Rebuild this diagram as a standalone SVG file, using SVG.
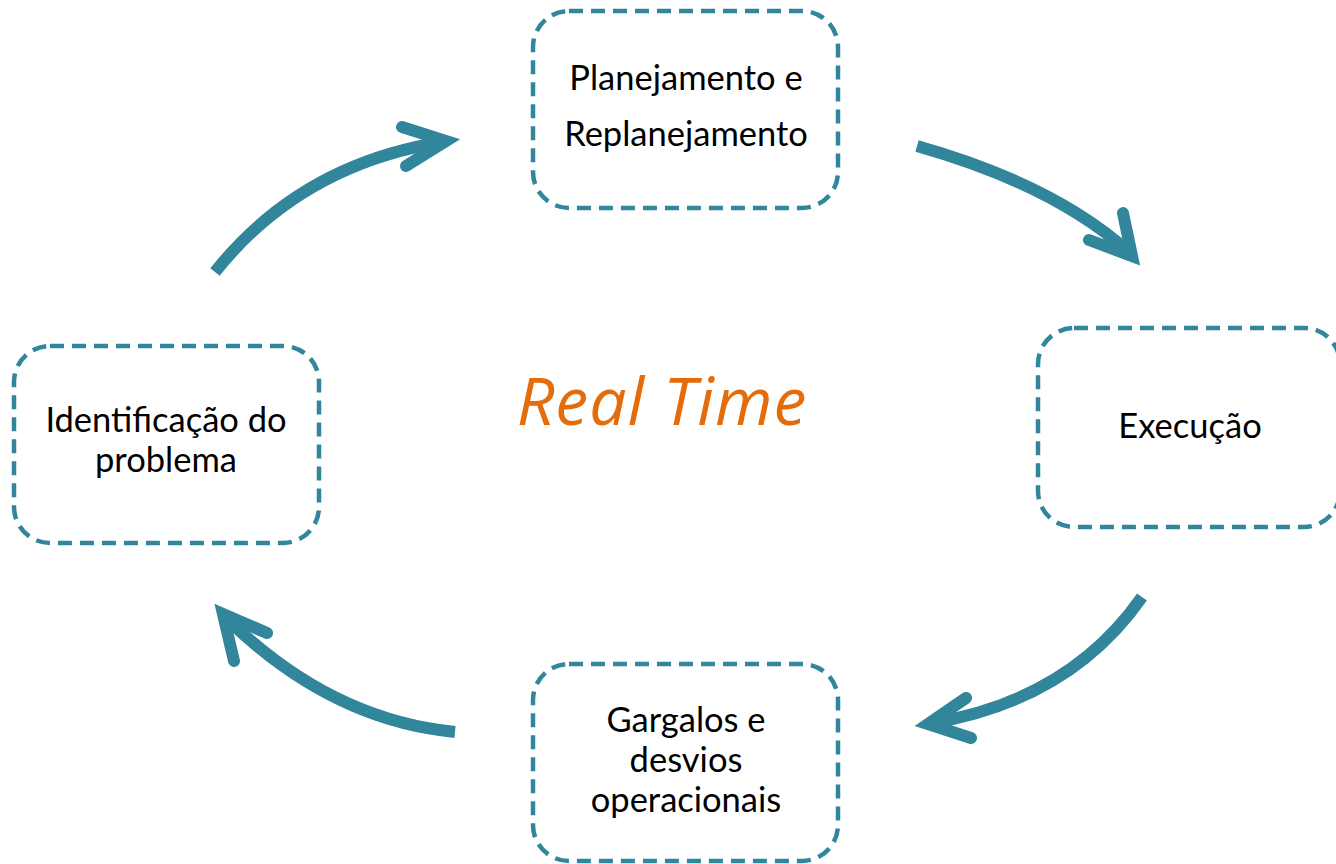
<svg xmlns="http://www.w3.org/2000/svg" width="1336" height="864" viewBox="0 0 1336 864">
<style>
.box{fill:none;stroke:#31869b;stroke-width:4.5;stroke-dasharray:14 8}
.lbl{font-family:Lato,"Open Sans",sans-serif;font-size:34.5px;fill:#000;text-anchor:middle}
.arr{fill:none;stroke:#31869b;stroke-width:12}
.head{fill:none;stroke:#31869b;stroke-width:12;stroke-linecap:round;stroke-linejoin:miter;stroke-miterlimit:10}
</style>
<rect width="1336" height="864" fill="#ffffff"/>
<g id="planejamento">
<rect class="box" x="533" y="11" width="305" height="197" rx="36"/>
<text class="lbl" x="686" y="90">Planejamento e</text>
<text class="lbl" x="686" y="146">Replanejamento</text>
</g>
<g id="execucao">
<rect class="box" x="1038" y="328" width="302" height="199" rx="36"/>
<text class="lbl" x="1190" y="438">Execução</text>
</g>
<g id="gargalos">
<rect class="box" x="533" y="664" width="305" height="197" rx="36"/>
<text class="lbl" x="686" y="732">Gargalos e</text>
<text class="lbl" x="686" y="772">desvios</text>
<text class="lbl" x="686" y="812">operacionais</text>
</g>
<g id="identificacao">
<rect class="box" x="14" y="346" width="305" height="197" rx="36"/>
<text class="lbl" x="166" y="432">Identificação do</text>
<text class="lbl" x="166" y="472">problema</text>
</g>
<g id="center">
<text x="662" y="425" font-family="'Open Sans',Lato,sans-serif" font-style="italic" font-size="66" letter-spacing="1" fill="#e46c0a" text-anchor="middle">Real Time</text>
</g>
<g id="connectors">
<path class="arr" d="M215 272 Q300 165 442 142"/>
<path class="head" d="M402 127 L446 141 L406 166"/>
<path class="arr" d="M917 146 Q1055 185 1130 253"/>
<path class="head" d="M1123 213 L1132 256 L1089 240"/>
<path class="arr" d="M1142 597 Q1070 700 932 723"/>
<path class="head" d="M966 698 L928 724 L971 738"/>
<path class="arr" d="M455 732 Q330 720 226 618"/>
<path class="head" d="M267 633 L223 614 L234 661"/>
</g>
</svg>
